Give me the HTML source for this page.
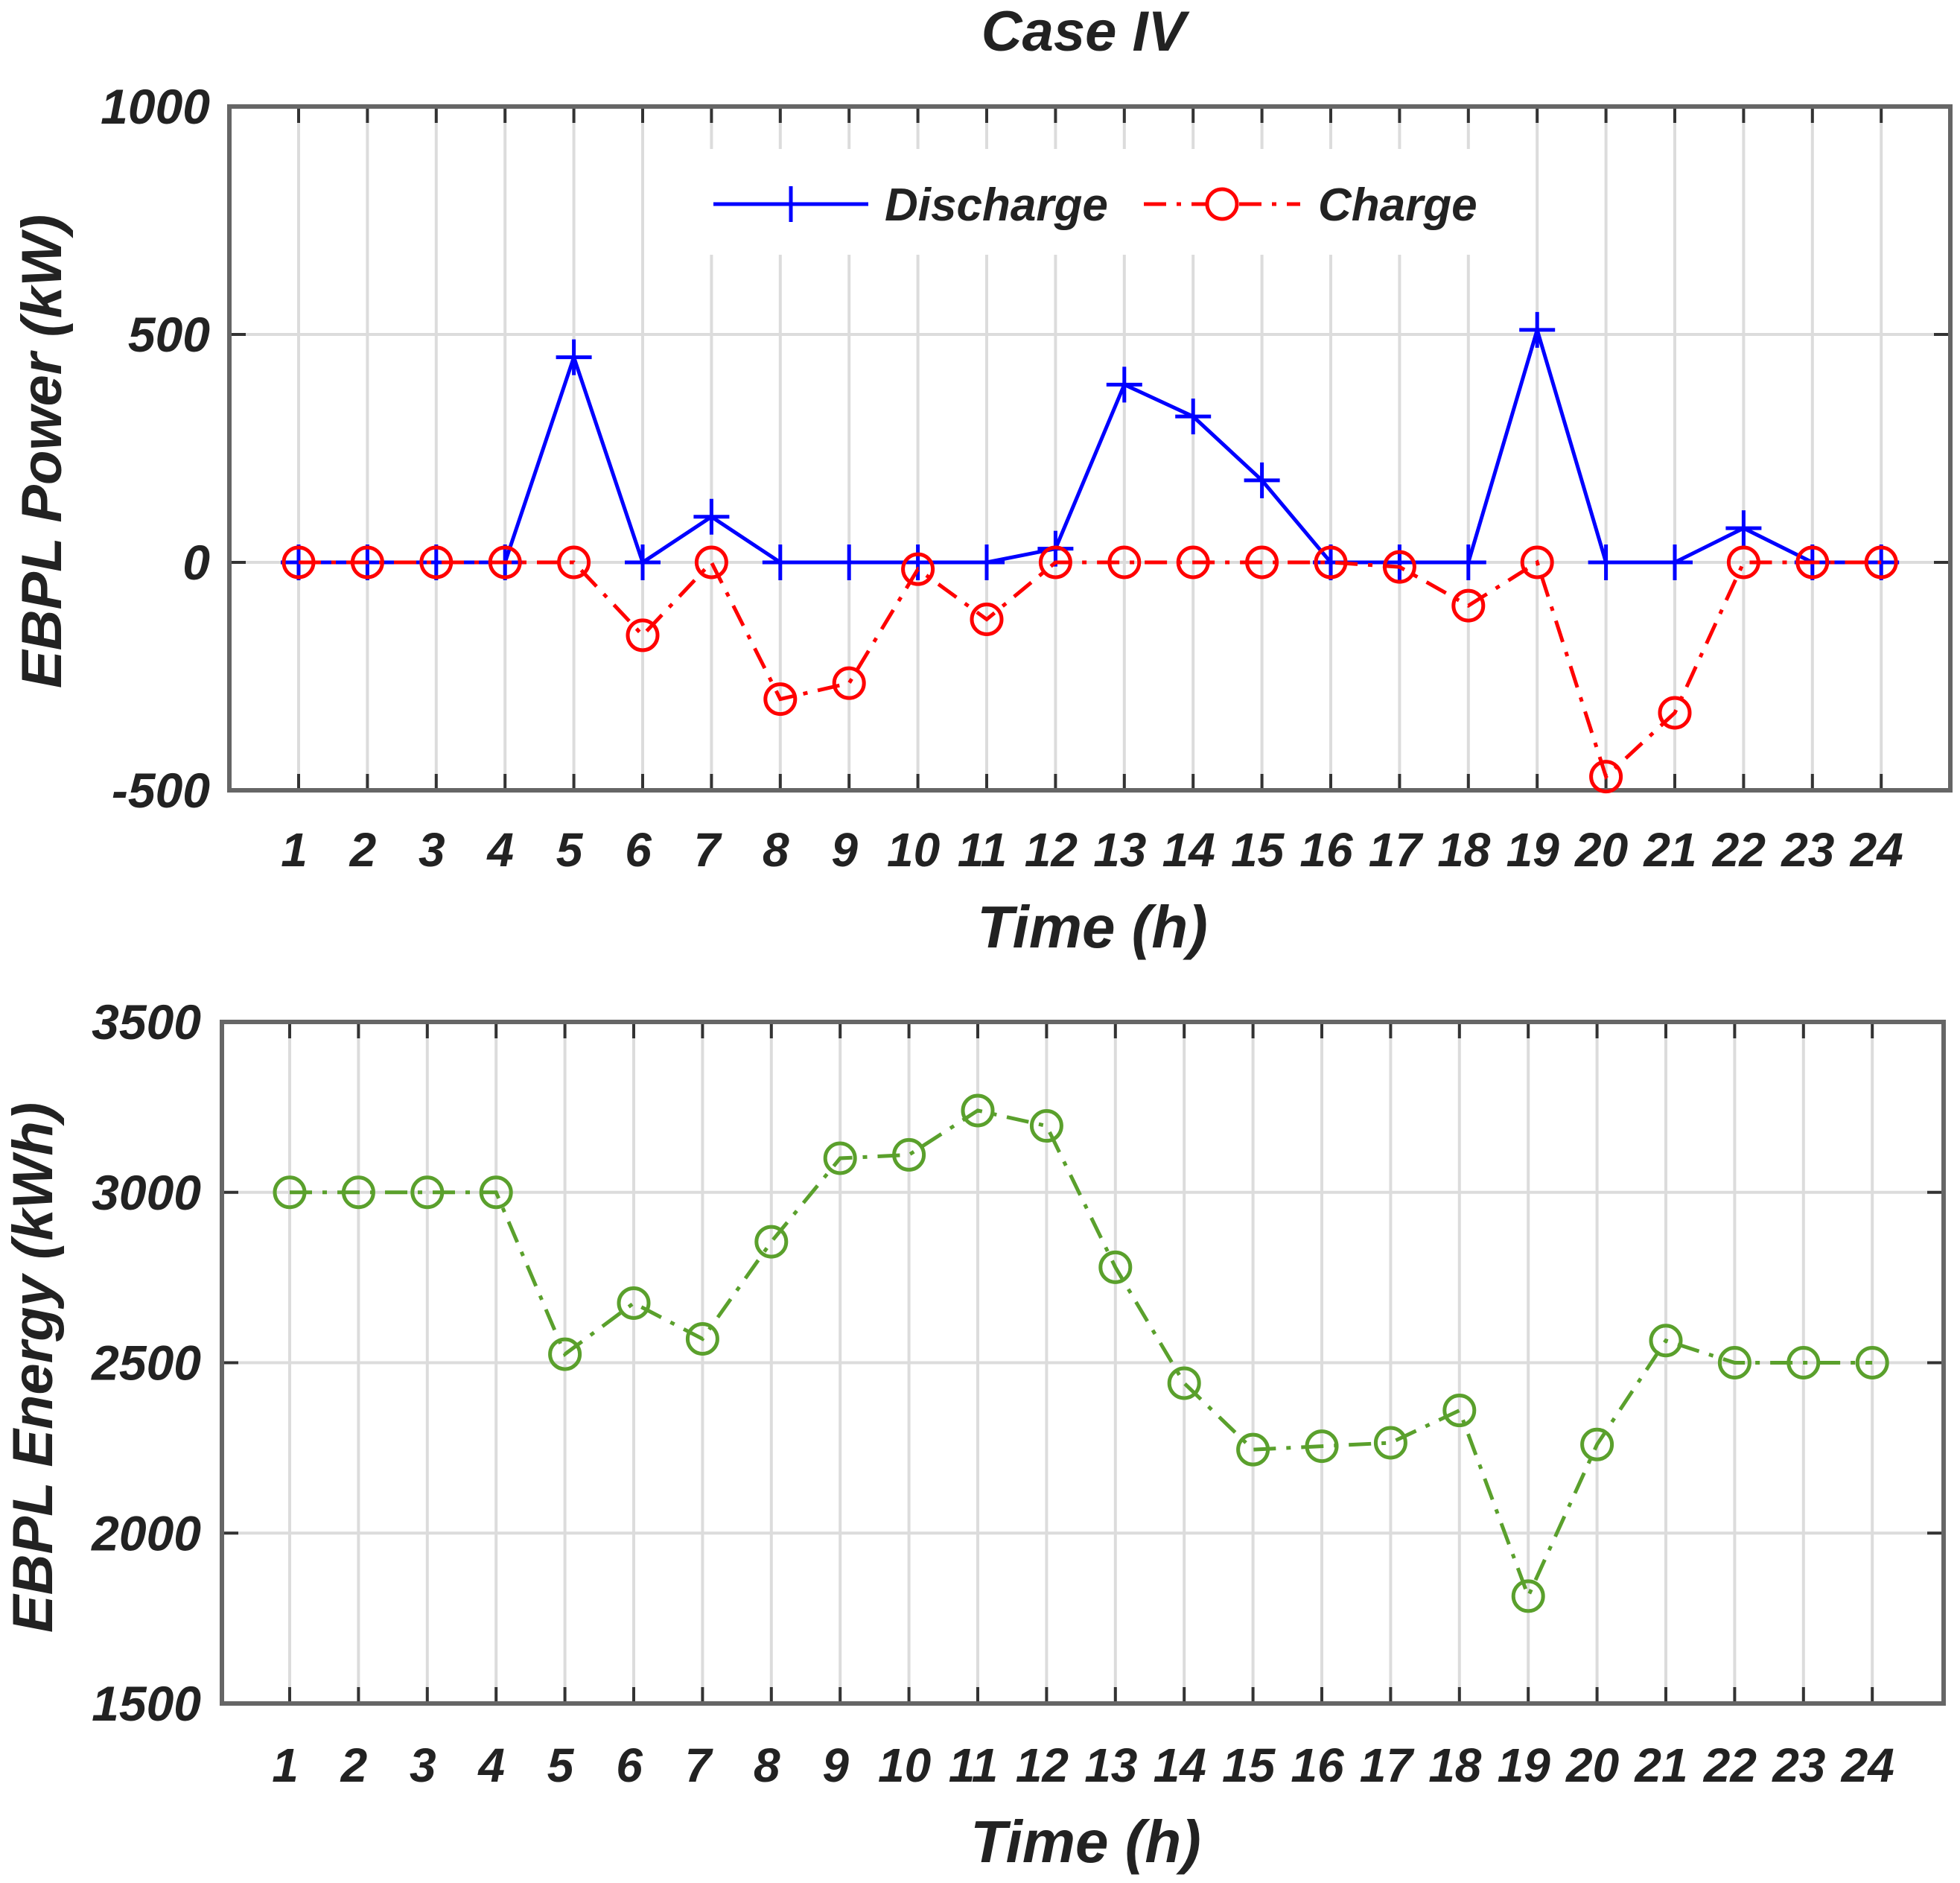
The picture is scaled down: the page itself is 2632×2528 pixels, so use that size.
<!DOCTYPE html>
<html><head><meta charset="utf-8"><style>
html,body{margin:0;padding:0;background:#fff;}
svg{display:block;}
text{font-family:"Liberation Sans",Arial,sans-serif;font-weight:bold;font-style:italic;fill:#222;}
</style></head><body>
<svg id="chart" width="2632" height="2528" viewBox="0 0 2632 2528" xmlns="http://www.w3.org/2000/svg">
<text x="1455" y="68" font-size="76" text-anchor="middle">Case IV</text>
<g id="topPanel"></g>
<g id="botPanel"></g>
</svg>
<script>
const hours = [1,2,3,4,5,6,7,8,9,10,11,12,13,14,15,16,17,18,19,20,21,22,23,24];
const discharge = [0,0,0,0,450,0,100,0,0,0,0,30,390,320,180,0,0,0,510,0,0,75,0,0];
const charge = [0,0,0,0,0,-160,0,-300,-265,-15,-125,0,0,0,0,0,-10,-95,0,-470,-330,0,0,0];
const energy = [3000,3000,3000,3000,2525,2675,2570,2855,3100,3110,3240,3195,2780,2440,2245,2255,2265,2360,1815,2260,2565,2500,2500,2500];
const powerTicks = [-500,0,500,1000];
const energyTicks = [1500,2000,2500,3000,3500];

const NS="http://www.w3.org/2000/svg";
function mk(parent,tag,attrs,txt){const e=document.createElementNS(NS,tag);for(const k in attrs)e.setAttribute(k,attrs[k]);if(txt!==undefined)e.textContent=txt;parent.appendChild(e);return e;}

function drawPanel(g,cfg){
  const {L,R,T,B,x1,dx,ymin,ymax,ticks}=cfg;
  const X=h=>x1+(h-1)*dx;
  const Y=v=>B-(v-ymin)/(ymax-ymin)*(B-T);
  hours.forEach(h=>{
    const gl=mk(g,'line',{x1:X(h),x2:X(h),y1:T,y2:B,stroke:'#dcdcdc','stroke-width':4});
    
    
  });
  ticks.forEach(v=>{
    const gl=mk(g,'line',{x1:L,x2:R,y1:Y(v),y2:Y(v),stroke:'#dcdcdc','stroke-width':4});
    
    
  });
  if(cfg.legend){
    const lb=mk(g,'rect',{x:925,y:200,width:1090,height:142,fill:'#fff'});
    
    
  }
  hours.forEach(h=>{
    mk(g,'line',{x1:X(h),x2:X(h),y1:T,y2:T+22,stroke:'#333','stroke-width':4});
    mk(g,'line',{x1:X(h),x2:X(h),y1:B,y2:B-22,stroke:'#333','stroke-width':4});
    const t=mk(g,'text',{x:X(h)-6,y:cfg.xLabY,'font-size':64,'text-anchor':'middle'},String(h));
    
    
  });
  ticks.forEach(v=>{
    mk(g,'line',{x1:L,x2:L+22,y1:Y(v),y2:Y(v),stroke:'#333','stroke-width':4});
    mk(g,'line',{x1:R,x2:R-22,y1:Y(v),y2:Y(v),stroke:'#333','stroke-width':4});
    const t=mk(g,'text',{x:cfg.yLabX,y:Y(v)+23,'font-size':66,'text-anchor':'end'},String(v));
    
    
  });
  const fr=mk(g,'rect',{x:L,y:T,width:R-L,height:B-T,fill:'none',stroke:'#666','stroke-width':6});
  
  
  const xt=mk(g,'text',{x:cfg.xTitleX,y:cfg.xTitleY,'font-size':80,'text-anchor':'middle'},'Time (h)');
  
  
  const yt=mk(g,'text',{x:0,y:0,'font-size':76,'text-anchor':'middle',transform:`translate(${cfg.yTitleX},${cfg.yTitleY}) rotate(-90)`},cfg.yTitle);
  
  
  return {X,Y};
}

function series(g,vals,sc,color,dash,marker,name){
  const pts=vals.map((v,i)=>sc.X(hours[i])+','+sc.Y(v)).join(' ');
  const pl=mk(g,'polyline',{points:pts,fill:'none',stroke:color,'stroke-width':5,'stroke-dasharray':dash||'none'});
  
  
  vals.forEach((v,i)=>{
    const x=sc.X(hours[i]),y=sc.Y(v);
    let m;
    if(marker==='plus'){
      m=mk(g,'path',{d:`M${x-24},${y}H${x+24}M${x},${y-24}V${y+24}`,stroke:color,'stroke-width':5,fill:'none'});
    }else{
      m=mk(g,'circle',{cx:x,cy:y,r:20,fill:'none',stroke:color,'stroke-width':5});
    }
    
    
  });
}

const topG=document.getElementById('topPanel');
const A=drawPanel(topG,{L:308,R:2619,T:143,B:1061,x1:401,dx:92.4,ymin:-500,ymax:1000,ticks:powerTicks,
  xLabY:1163,yLabX:282,xTitleX:1467,xTitleY:1272,yTitleX:82,yTitleY:606,yTitle:'EBPL Power (kW)',legend:true});
series(topG,discharge,A,'#0000ff',null,'plus','discharge');
series(topG,charge,A,'#ff0000','30 14 6 14','circle','charge');

const lg=mk(topG,'g',{});


mk(lg,'line',{x1:958,x2:1166,y1:274,y2:274,stroke:'#0000ff','stroke-width':5});
mk(lg,'path',{d:'M1040,274H1084M1062,250V298',stroke:'#0000ff','stroke-width':5});
const lt1=mk(lg,'text',{x:1188,y:296,'font-size':62},'Discharge');


mk(lg,'line',{x1:1536,x2:1746,y1:274,y2:274,stroke:'#ff0000','stroke-width':5,'stroke-dasharray':'30 14 6 14'});
mk(lg,'circle',{cx:1641,cy:274,r:20,fill:'#fff',stroke:'#ff0000','stroke-width':5});
const lt2=mk(lg,'text',{x:1770,y:296,'font-size':62},'Charge');



const botG=document.getElementById('botPanel');
const Bsc=drawPanel(botG,{L:298,R:2610,T:1372,B:2287,x1:389,dx:92.4,ymin:1500,ymax:3500,ticks:energyTicks,
  xLabY:2392,yLabX:270,xTitleX:1458,xTitleY:2500,yTitleX:70,yTitleY:1836,yTitle:'EBPL Energy (kWh)'});
series(botG,energy,Bsc,'#5aa02c','30 14 6 14','circle','energy');
</script>
</body></html>
